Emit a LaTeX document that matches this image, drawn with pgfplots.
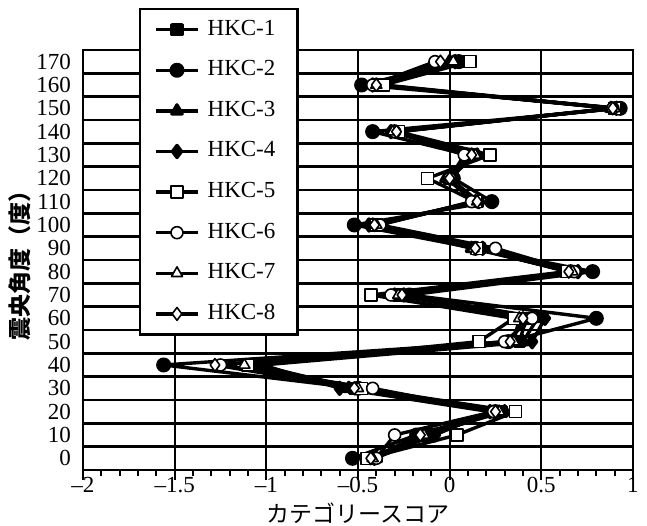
\documentclass[border=0pt]{standalone}
\usepackage{pgfplots}
\pgfplotsset{compat=1.18}
\usepackage{pgfplotstable}
\usepackage{fontspec}
\setmainfont{Liberation Serif}
\newfontfamily\jp{Noto Sans CJK JP}

% category scores per epicentral-angle class (row 0..17 = 0..170 deg)
\pgfplotstableread{
row hkca hkcb hkcc hkcd hkce hkcf hkcg hkch
0  -0.42 -0.53 -0.40 -0.41 -0.45 -0.40 -0.42 -0.43
1  -0.12 -0.18 -0.15 -0.08  0.04 -0.30 -0.14 -0.16
2   0.28  0.25  0.30  0.22  0.36  0.24  0.27  0.25
3  -0.52 -0.50 -0.55 -0.60 -0.48 -0.42 -0.50 -0.52
4  -1.05 -1.56 -1.08 -1.02 -1.10 -1.25 -1.12 -1.28
5   0.38  0.32  0.40  0.45  0.16  0.30  0.35  0.33
6   0.42  0.80  0.48  0.52  0.35  0.45  0.38  0.40
7  -0.28 -0.22 -0.30 -0.25 -0.43 -0.32 -0.28 -0.26
8   0.68  0.78  0.66  0.70  0.64  0.68  0.67  0.65
9   0.16  0.14  0.12  0.18  0.15  0.25  0.13  0.14
10 -0.40 -0.52 -0.42 -0.44 -0.40 -0.38 -0.40 -0.41
11  0.15  0.23  0.14  0.16  0.14  0.12  0.15  0.15
12  0.00  0.02 -0.02  0.00 -0.12  0.00  0.00  0.00
13  0.12  0.10  0.15  0.12  0.22  0.08  0.14  0.12
14 -0.28 -0.42 -0.30 -0.32 -0.28 -0.30 -0.31 -0.29
15  0.90  0.93  0.88  0.91  0.90  0.89  0.90  0.89
16 -0.38 -0.48 -0.40 -0.42 -0.36 -0.42 -0.40 -0.40
17  0.08  0.05  0.00  0.03  0.11 -0.08  0.02 -0.05
}\scores

\begin{document}
\begin{tikzpicture}
\begin{axis}[
  scale only axis,
  width=275pt, height=210pt,
  xmin=-2, xmax=1, ymin=-0.5, ymax=17.5,
  axis line style={line width=1pt},
  font=\fontsize{11.5}{13}\selectfont,
  xtick={-2,-1.5,-1,-0.5,0,0.5,1},
  xticklabels={\textendash2,\textendash1.5,\textendash1,\textendash0.5,0,0.5,1},
  xticklabel style={yshift=2.5pt, inner ysep=1pt},
  minor x tick num=4,
  xtick pos=bottom,
  tick align=outside,
  major tick length=5pt,
  minor tick length=3pt,
  every tick/.style={black, line width=0.9pt},
  xmajorgrids,
  major x grid style={black, line width=1pt},
  ytick={0,...,17},
  yticklabels={0,10,20,30,40,50,60,70,80,90,100,110,120,130,140,150,160,170},
  ytick pos=left,
  major y tick style={draw=none},
  yticklabel style={xshift=2.5pt},
  minor ytick={0.5,1.5,...,16.5},
  minor y tick style={draw=none},
  yminorgrids,
  minor y grid style={black, line width=1.3pt},
  xlabel={\jp カテゴリースコア},
  xlabel style={at={(axis description cs:0.5,-0.104)}, anchor=center, inner ysep=0pt},
  ylabel={\jp\bfseries 震央角度（度）},
  ylabel style={at={(axis description cs:-0.1145,0.5)}, anchor=center},
  legend style={
    at={(0.102,1.1)}, anchor=north west,
    draw=black, line width=1.2pt, fill=white,
    inner xsep=7pt, inner ysep=5pt,
    row sep=9.8pt,
    nodes={inner ysep=0pt, inner xsep=4pt, text height=8pt, text depth=2.5pt},
    font=\fontsize{11.5}{13}\selectfont,
  },
  legend cell align=left,
  legend image code/.code={%
    \draw[mark repeat=2,mark phase=2] plot coordinates {(0pt,0pt) (10.5pt,0pt) (21pt,0pt)};},
  every axis plot/.append style={black, line width=1.7pt, line join=round},
]
\addplot[mark=square*, mark size=2.5pt, mark options={solid}] table[x=hkca, y=row] {\scores};
\addlegendentry{HKC-1}
\addplot[mark=*, mark size=2.9pt, mark options={solid}] table[x=hkcb, y=row] {\scores};
\addlegendentry{HKC-2}
\addplot[mark=triangle*, mark size=3pt, mark options={solid}] table[x=hkcc, y=row] {\scores};
\addlegendentry{HKC-3}
\addplot[mark=diamond*, mark size=3pt, mark options={solid}] table[x=hkcd, y=row] {\scores};
\addlegendentry{HKC-4}
\addplot[mark=square*, mark size=3pt, mark options={solid, fill=white, line width=0.8pt}] table[x=hkce, y=row] {\scores};
\addlegendentry{HKC-5}
\addplot[mark=*, mark size=3pt, mark options={solid, fill=white, line width=0.8pt}] table[x=hkcf, y=row] {\scores};
\addlegendentry{HKC-6}
\addplot[mark=triangle*, mark size=3.2pt, mark options={solid, fill=white, line width=0.8pt}] table[x=hkcg, y=row] {\scores};
\addlegendentry{HKC-7}
\addplot[mark=diamond*, mark size=3.2pt, mark options={solid, fill=white, line width=0.8pt}] table[x=hkch, y=row] {\scores};
\addlegendentry{HKC-8}
\coordinate (bbsw) at (rel axis cs:-0.1509,-0.1333);
\coordinate (bbne) at (rel axis cs:1.0255,1.1190);
\end{axis}
\pgfresetboundingbox
\useasboundingbox (bbsw) rectangle (bbne);
\end{tikzpicture}
\end{document}
